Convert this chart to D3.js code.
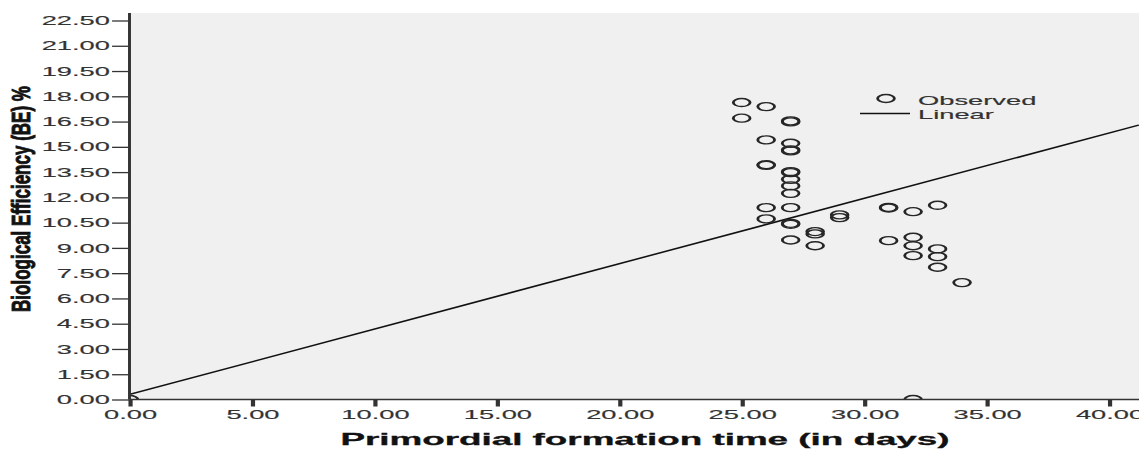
<!DOCTYPE html>
<html>
<head>
<meta charset="utf-8">
<script src="https://cdn.jsdelivr.net/npm/d3@7"></script>
<style>
  html, body { margin: 0; padding: 0; background: #ffffff; }
  svg { display: block; }
  text { font-family: "Liberation Sans", Arial, sans-serif; }
</style>
</head>
<body>
<svg id="chart" width="1139" height="451"></svg>
<script>
// Observed primordial formation time (days) and biological efficiency (%)
const primordialDays = [
  0,
  25, 25,
  26, 26, 26, 26, 26, 26,
  27, 27, 27, 27, 27, 27, 27, 27, 27, 27, 27, 27, 27, 27,
  28, 28, 28,
  29, 29,
  31, 31, 31,
  32, 32, 32, 32, 32,
  33, 33, 33, 33,
  34
];
const bePercent = [
  0.00,
  17.63, 16.70,
  17.39, 15.41, 13.94, 13.90, 11.39, 10.72,
  16.54, 16.48, 15.21, 14.82, 14.76, 13.53, 13.47, 13.07, 12.68, 12.24, 11.39, 10.46, 10.40, 9.47,
  9.97, 9.83, 9.13,
  10.96, 10.80,
  11.41, 11.37, 9.43,
  11.15, 9.63, 9.13, 8.54, 0.00,
  11.53, 8.94, 8.48, 7.85,
  6.94
];

// Fitted linear model: BE = intercept + slope * days
const fitIntercept = 0.30;
const fitSlope = 0.388;

// Axis ticks
const xTickValues = [0, 5, 10, 15, 20, 25, 30, 35, 40];
const yTickValues = [0, 1.5, 3, 4.5, 6, 7.5, 9, 10.5, 12, 13.5, 15, 16.5, 18, 19.5, 21, 22.5];

const legendLabels = ["Observed", "Linear"];
const xTitle = "Primordial formation time (in days)";
const yTitle = "Biological Efficiency (BE) %";

// The chart is drawn in a horizontally compressed space and widened by K
const W = 1139, H = 451, K = 2.1;
const svg = d3.select("#chart");
const g = svg.append("g").attr("transform", `scale(${K},1)`);

const plotTop = 13, plotBottom = 399.5;
const plotLeft = 129.5 / K, plotRight = W / K;

const x = d3.scaleLinear().domain([0, 40]).range([129.5 / K, 1109 / K]);
const y = d3.scaleLinear().domain([0, 22.5]).range([plotBottom, 20.5]);
const fmt = d3.format(".2f");

// Plot background
g.append("rect")
  .attr("x", plotLeft).attr("y", plotTop)
  .attr("width", plotRight - plotLeft).attr("height", plotBottom - plotTop)
  .attr("fill", "#f0f0f0");

g.append("clipPath").attr("id", "plotClip")
  .append("rect")
  .attr("x", plotLeft).attr("y", plotTop)
  .attr("width", plotRight - plotLeft).attr("height", plotBottom - plotTop);

// Fit line across the visible x range
const xMaxVisible = x.invert(plotRight);
const fitLine = d3.line().x(d => x(d)).y(d => y(fitIntercept + fitSlope * d));
g.append("path")
  .datum([0, xMaxVisible])
  .attr("d", fitLine)
  .attr("fill", "none")
  .attr("stroke", "#111")
  .attr("stroke-width", 1.4)
  .attr("clip-path", "url(#plotClip)");

// Observed points
const points = primordialDays.map((d, i) => ({ days: d, be: bePercent[i] }));
g.append("g").attr("clip-path", "url(#plotClip)")
  .selectAll("circle")
  .data(points)
  .join("circle")
  .attr("cx", d => x(d.days))
  .attr("cy", d => y(d.be))
  .attr("r", 4.0)
  .attr("fill", "none")
  .attr("stroke", "#262626")
  .attr("stroke-width", 1.35);

// Y axis
const yAxis = g.append("g")
  .attr("transform", `translate(${plotLeft},0)`)
  .call(d3.axisLeft(y).tickValues(yTickValues).tickFormat(fmt)
    .tickSize(8.3).tickSizeOuter(0).tickPadding(1));
yAxis.select(".domain").remove();
yAxis.selectAll(".tick line").attr("stroke", "#333").attr("stroke-width", 1.3);
yAxis.selectAll(".tick text")
  .attr("fill", "#333").attr("font-size", 13)
  .attr("stroke", "#333").attr("stroke-width", 0.15)
  .attr("font-family", "Liberation Sans, Arial, sans-serif");

// X axis
const xAxis = g.append("g")
  .attr("transform", `translate(0,${plotBottom})`)
  .call(d3.axisBottom(x).tickValues(xTickValues).tickFormat(fmt)
    .tickSize(7).tickSizeOuter(0).tickPadding(3));
xAxis.select(".domain").remove();
xAxis.selectAll(".tick line").attr("stroke", "#333").attr("stroke-width", 2);
xAxis.selectAll(".tick text")
  .attr("fill", "#333").attr("font-size", 13)
  .attr("stroke", "#333").attr("stroke-width", 0.15)
  .attr("font-family", "Liberation Sans, Arial, sans-serif");

// Axis lines
g.append("line")
  .attr("x1", plotLeft).attr("x2", plotLeft)
  .attr("y1", plotTop).attr("y2", plotBottom)
  .attr("stroke", "#333").attr("stroke-width", 1.4);
g.append("line")
  .attr("x1", plotLeft).attr("x2", plotRight)
  .attr("y1", plotBottom).attr("y2", plotBottom)
  .attr("stroke", "#333").attr("stroke-width", 1.4);

// Axis titles
g.append("text")
  .attr("x", 645 / K).attr("y", 445)
  .attr("text-anchor", "middle")
  .attr("font-size", 17).attr("font-weight", "bold")
  .attr("fill", "#111").attr("stroke", "#111").attr("stroke-width", 0.3)
  .attr("textLength", 290).attr("lengthAdjust", "spacingAndGlyphs")
  .text(xTitle);

g.append("text")
  .attr("transform", `translate(${30 / K},199) rotate(-90)`)
  .attr("text-anchor", "middle")
  .attr("font-size", 12.2).attr("font-weight", "bold")
  .attr("fill", "#111").attr("stroke", "#111").attr("stroke-width", 0.45)
  .attr("textLength", 226).attr("lengthAdjust", "spacingAndGlyphs")
  .text(yTitle);

// Legend
const legend = g.append("g");
legend.append("circle")
  .attr("cx", 886 / K).attr("cy", 98.5).attr("r", 4.0)
  .attr("fill", "none").attr("stroke", "#262626").attr("stroke-width", 1.35);
legend.append("line")
  .attr("x1", 860 / K).attr("x2", 910 / K)
  .attr("y1", 113.5).attr("y2", 113.5)
  .attr("stroke", "#111").attr("stroke-width", 1.3);
legend.selectAll("text.lbl")
  .data(legendLabels)
  .join("text")
  .attr("class", "lbl")
  .attr("x", 918 / K)
  .attr("y", (d, i) => 105 + i * 14.5)
  .attr("font-size", 13)
  .attr("fill", "#333").attr("stroke", "#333").attr("stroke-width", 0.15)
  .text(d => d);
</script>
</body>
</html>
